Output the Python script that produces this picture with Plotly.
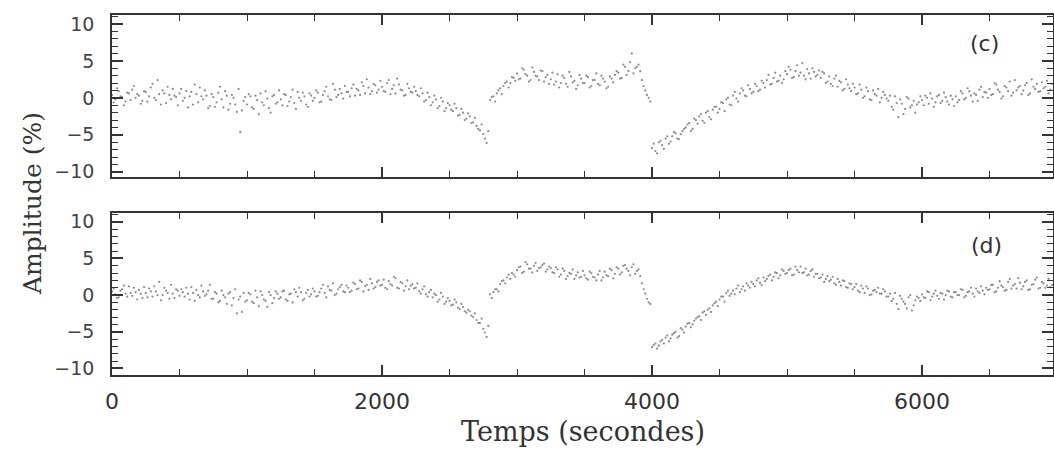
import plotly.graph_objects as go

# Sampling times (s): two interleaved sample sets, every 25 s
times = list(range(0, 6975, 25))
times_b = [t + 12.5 for t in times]

# Panel (c) amplitude (%), samples at `times`
amp_c = [
    0.4, -0.2, 0.9, 0.1, -0.5, 0.6, 1.1, 0.0, 0.3, -0.4,
    0.8, 0.2, 1.9, -0.3, 0.5, 1.0, -0.7, 0.4, 1.2, 0.1,
    0.6, -0.4, 0.9, 0.2, -0.9, 0.5, 1.4, -0.2, 0.3, -1.1,
    0.1, -0.6, 1.5, -1.3, 0.3, -0.8, 0.0, -1.9, -4.6, -0.4,
    -0.9, 0.2, -1.5, -0.3, 0.6, -1.0, -0.1, -2.0, 0.4, -0.6,
    -0.2, 0.5, -1.1, 0.1, -0.7, 0.8, -0.4, 0.2, -1.2, 0.3,
    0.0, 0.7, -0.5, 0.9, 0.2, -0.3, 1.1, 0.4, 0.6, 1.6,
    0.8, 1.3, 0.3, 1.0, 2.1, 0.6, 1.4, 0.9, 1.7, 1.1,
    1.5, 0.8, 2.4, 1.2, 0.6, 1.8, 1.0, 0.4, 1.3, 0.7,
    0.9, 0.2, 0.6, -0.3, 0.1, -0.6, -0.2, -1.1, -0.5, -1.4,
    -1.0, -1.8, -1.4, -2.3, -2.0, -2.8, -2.5, -3.3, -3.8, -4.4,
    -4.9, -6.1, -0.3, 0.2, 0.6, 1.3, 1.6, 2.2, 2.0, 2.7,
    3.3, 2.6, 3.8, 3.0, 2.4, 3.5, 2.9, 3.7, 2.2, 3.1,
    2.5, 1.8, 3.2, 2.0, 2.7, 1.5, 2.9, 2.3, 1.7, 2.6,
    2.0, 2.8, 1.6, 2.4, 1.9, 3.0, 2.2, 1.5, 2.6, 3.1,
    3.4, 2.7, 4.2, 3.6, 6.0, 4.0, 4.5, 2.4, 1.0, 0.0,
    -6.8, -7.2, -6.0, -6.4, -5.5, -6.2, -5.2, -4.8, -5.6, -4.5,
    -4.0, -3.4, -4.2, -3.0, -2.5, -3.1, -2.0, -2.6, -1.6, -1.2,
    -1.5, -0.7, -0.2, -0.9, 0.3, -0.1, 0.6, 1.0, 0.2, 1.2,
    0.8, 1.6, 1.1, 2.0, 2.4, 1.8, 2.7, 2.2, 3.0, 2.5,
    3.2, 3.8, 2.8, 4.4, 3.4, 3.0, 3.9, 2.6, 3.5, 3.1,
    2.7, 3.3, 2.2, 1.9, 2.6, 1.5, 2.1, 1.2, 1.8, 0.9,
    1.4, 0.6, 1.1, 0.2, 0.9, -0.3, 0.5, 1.2, 0.0, 0.4,
    -0.4, -1.2, 0.2, -2.6, -0.8, -1.5, -0.1, -1.0, -2.0, -0.6,
    -0.3, 0.3, -0.8, -0.1, -0.6, 0.4, -0.4, 0.1, -0.9, -0.2,
    0.2, -0.3, 0.6, 0.0, 0.9, -0.5, 0.4, 1.1, 0.1, 0.7,
    1.2, 0.5, 1.8, 0.8, 0.2, 1.4, 2.2, 0.7, 1.0, 1.6,
    1.0, 2.0, 0.6, 1.5, 1.9, 0.9, 1.3, 2.3, 1.1,
]

# Panel (c) amplitude (%), samples at `times_b`
amp_c_b = [
    -0.6, 1.3, 0.2, -1.0, 0.7, -0.3, 1.6, 0.5, -0.8, 0.9,
    -0.5, 1.4, 0.0, 2.4, -0.9, 0.6, 1.5, -0.2, 0.3, -1.0,
    1.2, 0.0, -1.3, 0.8, 1.8, -0.6, 0.2, 1.0, -1.4, 0.5,
    -1.2, 0.7, -0.2, 0.9, -1.6, 0.4, -0.9, 1.2, -1.7, 0.1,
    0.5, -1.3, 0.3, -2.2, -0.6, 0.9, -1.4, 0.2, -0.8, 1.0,
    -1.0, 0.4, -0.5, 1.1, -1.5, 0.0, 0.7, -0.9, 0.6, -0.4,
    1.0, -0.6, 0.4, 1.5, -0.2, 1.9, 0.1, 1.2, -0.1, 0.8,
    0.2, 1.8, 1.2, 0.4, 1.6, 2.5, 0.5, 1.9, 0.7, 2.3,
    0.9, 2.0, 0.5, 1.7, 2.6, 1.1, 0.3, 1.9, 0.8, 1.5,
    0.4, 1.3, -0.5, 0.7, -1.0, 0.3, -1.4, 0.0, -1.8, -0.7,
    -1.6, -0.8, -2.4, -1.5, -3.0, -2.1, -3.4, -2.7, -4.2, -3.6,
    -5.5, -4.5, 0.1, -0.5, 1.0, 0.5, 2.0, 1.4, 2.8, 2.3,
    2.5, 4.0, 3.2, 2.2, 4.1, 3.0, 2.4, 3.6, 2.8, 1.9,
    3.4, 2.2, 1.4, 3.0, 1.9, 3.5, 2.1, 1.2, 3.1, 2.0,
    3.0, 1.4, 2.4, 3.3, 1.7, 2.6, 1.3, 2.9, 2.1, 3.6,
    2.6, 4.5, 3.1, 4.8, 3.3, 4.2, 3.6, 1.6, 0.4, -0.5,
    -6.2, -7.5, -5.8, -6.9, -5.2, -5.9, -4.6, -5.5, -4.9, -4.2,
    -3.6, -4.5, -2.8, -3.5, -2.2, -3.4, -1.8, -2.9, -1.2, -2.0,
    -0.6, -1.8, 0.0, -1.0, 0.8, -0.5, 1.3, 0.3, 1.7, 0.6,
    1.9, 0.9, 2.3, 1.4, 3.1, 1.9, 3.4, 2.3, 2.0, 3.6,
    4.2, 2.7, 3.6, 3.0, 4.7, 2.5, 3.3, 4.0, 2.9, 3.7,
    3.5, 2.0, 2.9, 1.6, 3.0, 2.3, 1.0, 2.5, 1.3, 1.9,
    0.5, 1.8, 0.0, 1.4, -0.2, 1.0, 0.3, -0.6, 0.8, -0.1,
    0.3, -1.6, -0.7, -0.2, -2.2, 0.1, -1.3, -0.4, -0.9, 0.2,
    -1.0, 0.0, 0.6, -1.2, 0.2, -0.7, 0.7, -0.5, 0.3, -1.1,
    -0.6, 0.9, -0.2, 1.3, 0.3, 0.6, -0.4, 1.5, 0.8, 0.0,
    0.4, 2.0, 1.1, -0.1, 1.6, 0.9, 0.3, 2.4, 1.4, 0.5,
    1.7, 0.4, 2.5, 1.2, 0.8, 2.1, 1.5, 0.6, 1.9,
]

# Panel (d) amplitude (%), samples at `times`
amp_d = [
    0.5, 0.1, -0.3, 0.8, 0.2, 1.2, -0.1, 0.4, 0.7, -0.4,
    0.3, 0.9, -0.2, 0.5, 1.8, 0.0, 0.6, -0.5, 0.2, 0.8,
    -0.1, 0.4, 1.0, -0.6, 0.3, 0.7, -0.3, 0.5, 0.1, 1.4,
    -0.5, 0.2, -0.8, 0.0, -1.2, 0.4, -0.4, -2.5, -0.2, 0.3,
    -0.7, 0.1, -1.1, -0.3, 0.5, -0.6, -1.6, 0.0, -0.4, 0.2,
    -0.3, 0.6, -0.8, 0.2, 0.8, -0.2, 0.4, -0.5, 0.7, 0.1,
    0.5, -0.1, 0.9, 0.3, 1.2, 0.6, 0.0, 0.8, 1.4, 0.4,
    1.0, 0.6, 1.5, 0.9, 1.8, 1.2, 0.7, 1.6, 1.1, 2.0,
    1.4, 1.0, 1.9, 1.3, 2.3, 0.9, 1.6, 1.2, 0.8, 1.5,
    1.0, 0.5, 0.8, 0.1, 0.4, -0.3, 0.0, -0.6, -0.2, -0.9,
    -0.8, -1.3, -1.0, -1.9, -1.6, -2.4, -2.2, -3.0, -3.4, -3.8,
    -4.6, -5.7, 0.1, 0.4, 0.8, 1.5, 2.0, 2.4, 2.2, 2.8,
    3.4, 3.9, 3.2, 4.2, 3.6, 4.0, 3.3, 3.8, 4.3, 3.5,
    3.7, 3.0, 3.5, 2.8, 3.3, 2.6, 2.9, 2.2, 3.1, 2.5,
    2.7, 2.1, 3.0, 2.4, 2.8, 2.0, 3.2, 2.6, 3.4, 2.9,
    3.6, 3.1, 4.1, 3.3, 3.8, 2.9, 3.5, 1.6, 0.2, -1.0,
    -7.1, -6.6, -6.9, -6.1, -5.8, -6.3, -5.4, -5.0, -5.6, -4.7,
    -4.3, -3.8, -4.0, -3.2, -2.9, -2.4, -2.7, -1.8, -1.4, -0.9,
    -0.6, -0.2, 0.3, -0.1, 0.6, 0.9, 0.4, 1.2, 1.6, 1.0,
    1.5, 2.0, 1.7, 2.4, 2.2, 2.8, 2.5, 3.0, 2.7, 3.3,
    3.0, 3.6, 2.8, 3.4, 3.9, 3.1, 2.7, 3.3, 2.5, 2.9,
    2.4, 1.8, 2.6, 2.1, 1.6, 2.2, 1.3, 1.9, 1.0, 1.5,
    1.1, 0.6, 1.3, 0.3, 0.9, 0.1, 0.7, 1.0, 0.2, 0.5,
    -0.2, -0.8, 0.3, -1.9, -0.5, -1.2, -0.3, -2.1, -0.7, -0.4,
    0.1, -0.4, 0.4, -0.2, 0.6, -0.5, 0.2, 0.0, 0.5, -0.3,
    0.4, 0.0, 0.7, -0.1, 0.5, 0.2, 0.9, 0.3, 0.6, 1.0,
    0.8, 1.4, 0.5, 1.9, 1.1, 0.7, 2.2, 1.3, 0.9, 1.7,
    1.2, 2.0, 0.8, 1.5, 2.4, 1.0, 1.6, 1.3, 1.1,
]

# Panel (d) amplitude (%), samples at `times_b`
amp_d_b = [
    0.9, -0.4, 0.6, 1.3, -0.2, 0.3, 1.0, -0.6, 0.2, 1.1,
    -0.3, 0.5, 1.2, 0.0, -0.7, 1.0, 0.3, 1.4, -0.4, 0.6,
    0.8, -0.2, 0.2, 1.1, -0.8, 0.0, 1.3, -0.1, 0.6, -0.5,
    0.4, -1.0, 0.6, -0.3, 0.2, -1.4, 0.8, -0.6, -2.3, -0.9,
    0.3, -0.9, 0.6, -1.5, 0.0, -0.8, 0.4, -1.1, 0.5, -0.5,
    0.5, -0.6, 0.1, -1.0, 0.4, 1.0, -0.7, 0.3, -0.2, 0.9,
    -0.2, 0.4, 1.4, -0.3, 0.7, 1.6, 0.2, 1.1, 0.5, 1.3,
    0.4, 1.7, 0.8, 2.0, 0.5, 1.4, 2.2, 0.9, 1.8, 1.3,
    2.1, 0.8, 1.5, 2.5, 1.0, 1.8, 0.6, 2.0, 1.3, 0.9,
    1.6, 0.2, 1.2, -0.2, 0.7, 0.2, -0.9, 0.3, -1.2, -0.4,
    -1.4, -0.6, -1.7, -1.2, -2.2, -2.0, -2.8, -2.5, -3.8, -3.2,
    -5.1, -4.2, -0.4, 0.8, 0.5, 1.9, 1.6, 2.8, 3.0, 2.5,
    3.8, 3.0, 4.5, 3.6, 3.1, 4.4, 3.7, 4.1, 3.2, 3.9,
    3.1, 3.8, 2.5, 3.6, 2.2, 3.0, 3.5, 2.7, 2.4, 3.3,
    2.3, 3.2, 2.5, 2.0, 3.3, 2.4, 2.7, 3.6, 2.3, 3.8,
    2.8, 4.0, 3.6, 2.7, 4.2, 3.3, 2.6, 0.8, -0.5, -1.2,
    -6.8, -7.3, -6.3, -6.6, -5.5, -5.9, -5.2, -5.8, -4.5, -5.1,
    -3.9, -4.4, -3.5, -3.0, -3.4, -2.2, -2.0, -2.3, -1.1, -1.5,
    -0.2, -0.9, 0.6, 0.2, 0.1, 1.3, 0.8, 0.6, 1.3, 1.8,
    1.2, 2.3, 1.4, 1.9, 2.6, 2.0, 3.1, 2.3, 3.5, 2.9,
    3.4, 2.7, 3.9, 3.1, 3.0, 3.6, 2.8, 3.5, 2.9, 2.3,
    2.8, 2.2, 1.9, 2.5, 1.4, 1.8, 2.0, 1.1, 1.6, 0.8,
    1.5, 0.4, 0.9, 1.2, 0.0, 0.6, 0.4, 0.2, 0.8, -0.2,
    0.2, -0.5, -1.2, -0.1, -0.9, -1.8, 0.0, -1.4, -0.2, -0.8,
    -0.3, 0.5, -0.7, 0.2, -0.1, 0.3, -0.6, 0.6, -0.2, 0.4,
    0.0, 0.8, -0.3, 0.4, 1.0, -0.2, 0.5, 1.2, 0.1, 0.7,
    1.4, 0.4, 1.0, 1.3, 0.6, 1.8, 0.9, 1.5, 2.3, 0.8,
    1.8, 0.7, 1.4, 2.1, 0.9, 1.8, 1.0, 2.2, 1.4,
]

panel_labels = ["(c)", "(d)"]
x_tick_vals = [0, 2000, 4000, 6000]
y_tick_vals = [-10, -5, 0, 5, 10]
x_title = "Temps (secondes)"
y_title = "Amplitude (%)"

AX = "#333333"
SERIF = "DejaVu Serif"
SANS = "DejaVu Sans"

fig = go.Figure()
marker = dict(size=2.2, color="#8a8a8a")
for xs, ys, xa, ya in [(times, amp_c, "x", "y"), (times_b, amp_c_b, "x", "y"),
                       (times, amp_d, "x2", "y2"), (times_b, amp_d_b, "x2", "y2")]:
    fig.add_trace(go.Scatter(x=xs, y=ys, mode="markers", marker=marker,
                             xaxis=xa, yaxis=ya, showlegend=False,
                             hoverinfo="skip"))

def xaxis(showlabels, anchor):
    return dict(range=[0, 6970], anchor=anchor, showline=True, linecolor=AX,
                linewidth=1.5, mirror="ticks", ticks="inside", ticklen=10,
                tickwidth=1.5, tickcolor=AX, tickvals=x_tick_vals,
                showticklabels=showlabels, showgrid=False, zeroline=False,
                automargin=False, ticklabelstandoff=6,
                tickfont=dict(family=SANS, size=22, color="#333"),
                minor=dict(dtick=500, tick0=0, ticks="inside", ticklen=6,
                           tickcolor=AX, tickwidth=1.2, showgrid=False))

def yaxis(rng, domain, anchor):
    return dict(range=rng, domain=domain, anchor=anchor, showline=True,
                linecolor=AX, linewidth=1.5, mirror="ticks", ticks="inside",
                ticklen=11, tickwidth=1.5, tickcolor=AX, tickvals=y_tick_vals,
                showgrid=False, zeroline=False, ticklabelstandoff=12,
                automargin=False,
                tickfont=dict(family=SANS, size=19, color="#444"),
                minor=dict(dtick=1, tick0=0, ticks="inside", ticklen=6,
                           tickcolor=AX, tickwidth=1.2, showgrid=False))

fig.update_layout(
    width=1054, height=452,
    margin=dict(l=112, r=1, t=15, b=77),
    paper_bgcolor="white", plot_bgcolor="white",
    xaxis=xaxis(False, "y"),
    yaxis=yaxis([-10.7, 11.2], [0.55, 1.0], "x"),
    xaxis2=xaxis(True, "y2"),
    yaxis2=yaxis([-10.9, 11.2], [0.0, 0.45], "x2"),
    annotations=[
        dict(x=6459, y=7.3, xref="x", yref="y", text=panel_labels[0],
             showarrow=False, font=dict(family=SANS, size=22, color="#333")),
        dict(x=6480, y=6.7, xref="x2", yref="y2", text=panel_labels[1],
             showarrow=False, font=dict(family=SANS, size=22, color="#333")),
        dict(x=(32 - 112) / 941, y=(375 - 204) / 360, xref="paper", yref="paper",
             xanchor="center", yanchor="middle", text=y_title, textangle=-90,
             showarrow=False, font=dict(family=SERIF, size=25, color="#333")),
        dict(x=0.5, y=-(432 - 375) / 360, xref="paper", yref="paper",
             xanchor="center", yanchor="middle", text=x_title, showarrow=False,
             font=dict(family=SERIF, size=27, color="#333")),
    ],
)

fig.write_html("out.html", config={"displayModeBar": False},
               post_script="document.body.style.margin='0px';")
